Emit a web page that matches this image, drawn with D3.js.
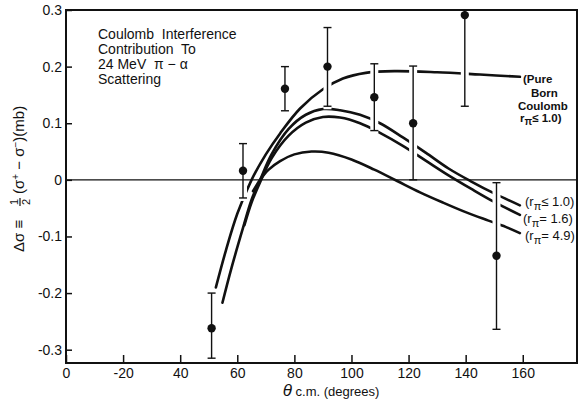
<!DOCTYPE html>
<html lang="en">
<head>
<meta charset="UTF-8">
<title>Coulomb Interference Contribution</title>
<script src="https://d3js.org/d3.v7.min.js"></script>
<style>
  body { margin: 0; background: #fff; }
  svg { display: block; }
  text { font-family: "Liberation Sans", Arial, sans-serif; fill: #111; }
</style>
</head>
<body>
<svg id="chart" width="579" height="408"></svg>
<script>
// measured points: angle (deg), delta sigma (mb), error bar low / high
const angles = [51, 62, 76.7, 91.6, 108, 121.6, 139.7, 150.8];
const values = [-0.262, 0.016, 0.161, 0.2, 0.146, 0.1, 0.291, -0.134];
const errLow = [-0.315, -0.032, 0.122, 0.13, 0.087, 0.0, 0.13, -0.264];
const errHigh = [-0.2, 0.064, 0.2, 0.269, 0.205, 0.201, 0.45, -0.005];

// theory curves, [angle, value]
const pureBorn = [[52.5,-0.19],[56,-0.125],[60,-0.06],[65,0],[70,0.045],[75,0.082],[82,0.126],[90,0.16],[97,0.179],[105,0.189],[115,0.192],[130,0.19],[145,0.186],[159,0.182]];
const rLe10 = [[54.8,-0.217],[58,-0.155],[62,-0.085],[65,-0.035],[68,0],[72,0.045],[78,0.09],[84,0.115],[90,0.125],[96,0.123],[103,0.115],[110,0.1],[118,0.075],[126,0.048],[134,0.02],[142,-0.003],[150,-0.024],[159,-0.045]];
const r16 = [[62.5,-0.08],[65,-0.04],[68,-0.004],[72,0.038],[78,0.078],[84,0.101],[90,0.111],[96,0.11],[103,0.1],[110,0.083],[118,0.06],[126,0.034],[134,0.008],[142,-0.016],[150,-0.039],[159,-0.062]];
const r49 = [[65.5,-0.02],[68,0],[71,0.018],[75,0.033],[80,0.045],[86,0.05],[92,0.048],[100,0.036],[108,0.018],[116,-0.002],[124,-0.022],[132,-0.04],[140,-0.057],[148,-0.072],[154,-0.083],[159,-0.094]];

const xTicks = [0, 20, 40, 60, 80, 100, 120, 140, 160];
const xTickLabels = ["0", "-20", "40", "60", "80", "100", "120", "140", "160"];
const yTicks = [0.3, 0.2, 0.1, 0, -0.1, -0.2, -0.3];
const yTickLabels = ["0.3", "0.2", "0.1", "0", "-0.1", "-0.2", "-0.3"];

const pL = 66, pR = 577, pT = 10, pB = 363;
const svg = d3.select("#chart");

const x = d3.scaleLinear().domain([0, 179]).range([pL, pR]);
const y = d3.scaleLinear().domain([-0.3235, 0.3]).range([pB, pT]);

svg.append("clipPath").attr("id", "plot")
  .append("rect").attr("x", pL).attr("y", pT)
  .attr("width", pR - pL).attr("height", pB - pT);

const plot = svg.append("g").attr("clip-path", "url(#plot)");

// curves
const line = d3.line().x(d => x(d[0])).y(d => y(d[1])).curve(d3.curveCatmullRom.alpha(0.5));
[pureBorn, rLe10, r16, r49].forEach(c => {
  plot.append("path").attr("d", line(c))
    .attr("fill", "none").attr("stroke", "#111")
    .attr("stroke-width", 2.6).attr("stroke-linecap", "round");
});

// white gaps where the error bars cross the curves
angles.forEach((a, i) => {
  plot.append("line")
    .attr("x1", x(a)).attr("x2", x(a))
    .attr("y1", y(errLow[i]) + 3).attr("y2", y(errHigh[i]) - 3)
    .attr("stroke", "#fff").attr("stroke-width", 8);
});

// zero line
plot.append("line")
  .attr("x1", pL).attr("x2", pR)
  .attr("y1", y(0)).attr("y2", y(0))
  .attr("stroke", "#111").attr("stroke-width", 1.3);

// error bars and points
angles.forEach((a, i) => {
  const g = plot.append("g").attr("stroke", "#111").attr("stroke-width", 1.4);
  g.append("line").attr("x1", x(a)).attr("x2", x(a))
    .attr("y1", y(errLow[i])).attr("y2", y(errHigh[i]));
  [errLow[i], errHigh[i]].forEach(v => {
    g.append("line").attr("x1", x(a) - 4).attr("x2", x(a) + 4)
      .attr("y1", y(v)).attr("y2", y(v));
  });
  plot.append("circle").attr("cx", x(a)).attr("cy", y(values[i]))
    .attr("r", 4.2).attr("fill", "#111");
});

// frame
svg.append("rect").attr("x", pL).attr("y", pT)
  .attr("width", pR - pL).attr("height", pB - pT)
  .attr("fill", "none").attr("stroke", "#111").attr("stroke-width", 2);

// axes
const xAxis = d3.axisBottom(x).tickValues(xTicks)
  .tickSize(-8).tickPadding(5)
  .tickFormat((d, i) => xTickLabels[i]);
const gx = svg.append("g").attr("transform", `translate(0,${pB})`).call(xAxis);
gx.select(".domain").remove();
gx.selectAll("line").attr("stroke", "#111").attr("stroke-width", 1.5);
gx.selectAll("text").attr("font-size", 14).attr("fill", "#111")
  .style("font-family", "Liberation Sans, Arial, sans-serif");

const yAxis = d3.axisLeft(y).tickValues(yTicks)
  .tickSize(-6).tickPadding(4)
  .tickFormat((d, i) => yTickLabels[i]);
const gy = svg.append("g").attr("transform", `translate(${pL},0)`).call(yAxis);
gy.select(".domain").remove();
gy.selectAll("line").attr("stroke", "#111").attr("stroke-width", 1.5);
gy.selectAll("text").attr("font-size", 14).attr("fill", "#111")
  .style("font-family", "Liberation Sans, Arial, sans-serif");

// title block
const title = ["Coulomb  Interference", "Contribution  To", "24 MeV  \u03c0 \u2212 \u03b1", "Scattering"];
title.forEach((t, i) => {
  svg.append("text").attr("x", 98).attr("y", 39 + i * 15)
    .attr("font-size", 14).attr("xml:space", "preserve").text(t);
});

// curve labels
const bornLab = svg.append("g").attr("font-size", 11.5).attr("font-weight", "bold");
bornLab.append("text").attr("x", 523).attr("y", 83).text("(Pure");
bornLab.append("text").attr("x", 531).attr("y", 96.5).text("Born");
bornLab.append("text").attr("x", 518).attr("y", 110).text("Coulomb");
const rl = bornLab.append("text").attr("x", 520).attr("y", 122);
rl.append("tspan").text("r");
rl.append("tspan").attr("dy", 3).attr("font-size", 10).text("\u03c0");
rl.append("tspan").attr("dy", -3).text("\u2264 1.0)");

const rLabels = [["(r", "\u2264 1.0)", 206], ["(r", "= 1.6)", 223], ["(r", "= 4.9)", 240]];
rLabels.forEach((r, i) => {
  const t = svg.append("text").attr("x", i === 1 ? 523 : 525).attr("y", r[2])
    .attr("font-size", 13);
  t.append("tspan").text(r[0]);
  t.append("tspan").attr("dy", 4).attr("font-size", 11).text("\u03c0");
  t.append("tspan").attr("dy", -4).text(r[1]);
});

// x label
const xl = svg.append("text").attr("x", 331).attr("y", 396).attr("text-anchor", "middle");
xl.append("tspan").attr("font-size", 17).attr("font-style", "italic").text("\u03b8");
xl.append("tspan").attr("font-size", 13).text(" c.m. (degrees)");

// y label, rotated with a stacked 1/2
const yl = svg.append("g").attr("transform", "translate(24,176) rotate(-90)");
yl.append("text").attr("x", -76).attr("y", 0).attr("font-size", 15).text("\u0394\u03c3 \u2261");
yl.append("text").attr("x", -26).attr("y", -6).attr("font-size", 11).attr("text-anchor", "middle").text("1");
yl.append("line").attr("x1", -30).attr("x2", -22).attr("y1", -4).attr("y2", -4)
  .attr("stroke", "#111").attr("stroke-width", 1.2);
yl.append("text").attr("x", -26).attr("y", 6).attr("font-size", 11).attr("text-anchor", "middle").text("2");
const ys = yl.append("text").attr("x", -18).attr("y", 0).attr("font-size", 15);
ys.append("tspan").text("(\u03c3");
ys.append("tspan").attr("dy", -5).attr("font-size", 10).text("+");
ys.append("tspan").attr("dy", 5).text(" \u2212 \u03c3");
ys.append("tspan").attr("dy", -5).attr("font-size", 10).text("\u2212");
ys.append("tspan").attr("dy", 5).text(")(mb)");
</script>
</body>
</html>
